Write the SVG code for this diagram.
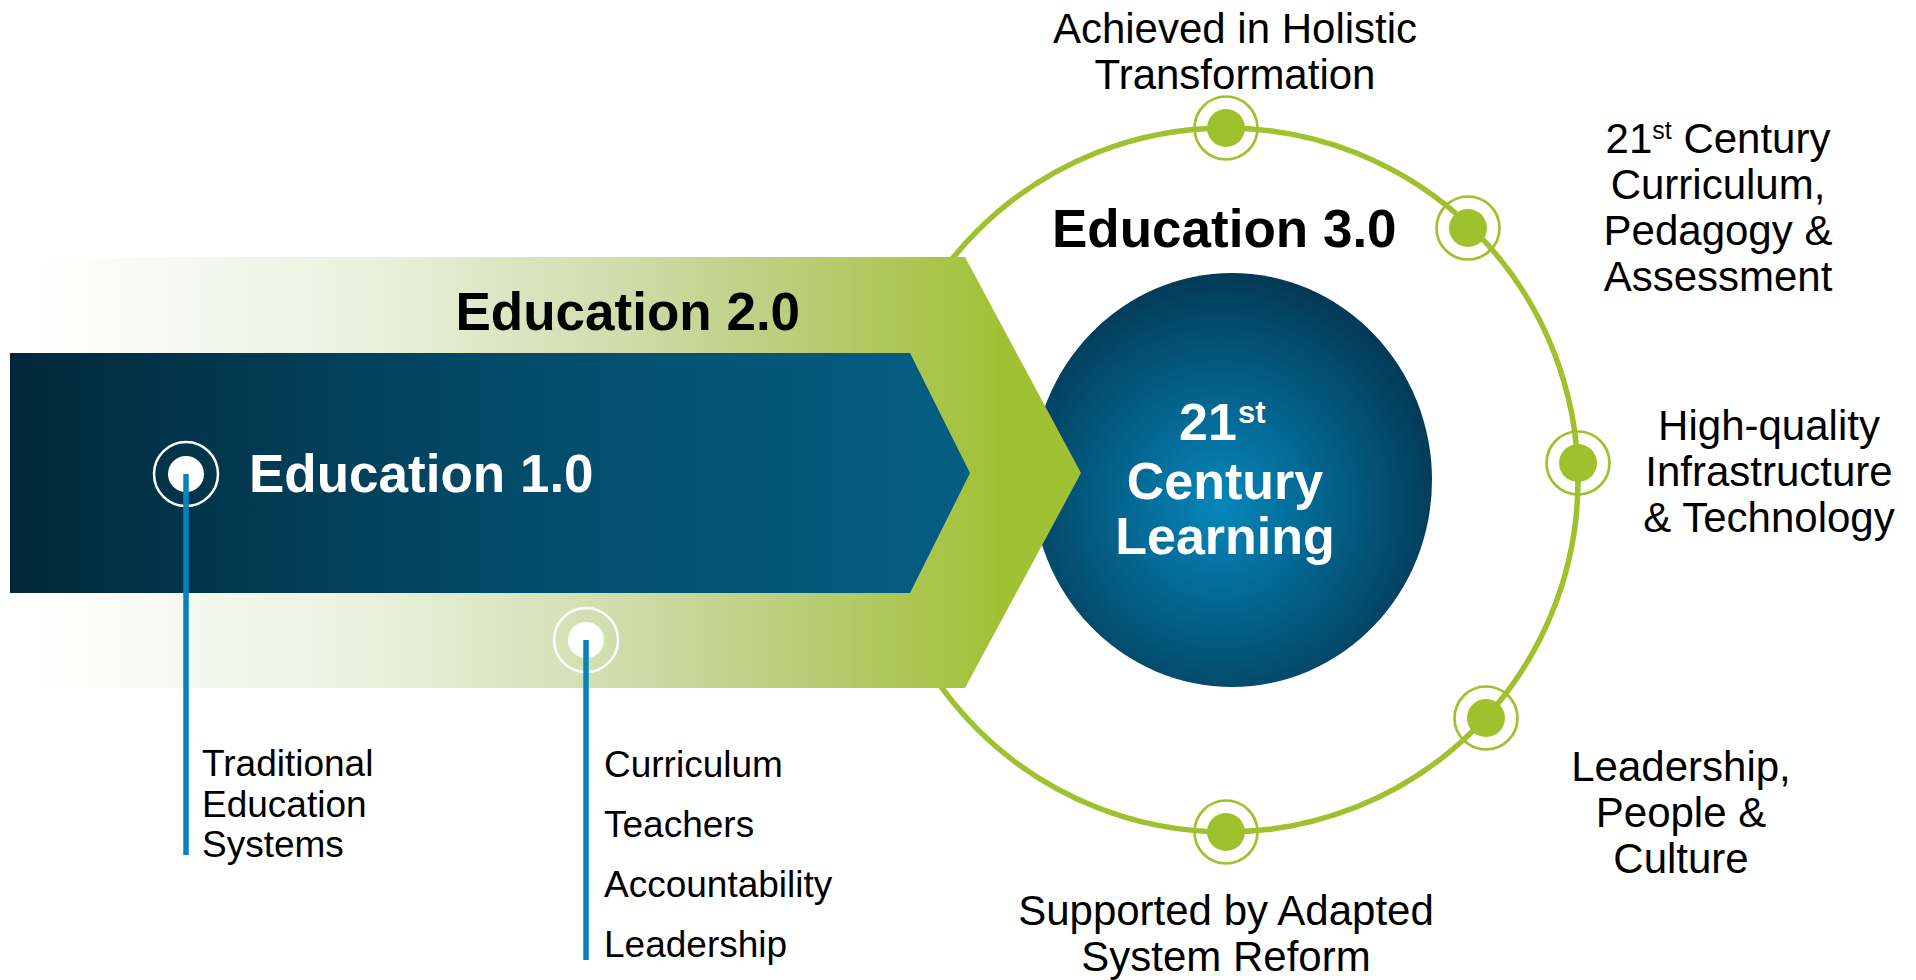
<svg xmlns="http://www.w3.org/2000/svg" width="1916" height="980" viewBox="0 0 1916 980">
  <defs>
    <linearGradient id="gGreen" gradientUnits="userSpaceOnUse" x1="40" y1="0" x2="1000" y2="0">
      <stop offset="0" stop-color="#ffffff"/>
      <stop offset="0.35" stop-color="#eaf0dc"/>
      <stop offset="0.6" stop-color="#d0ddac"/>
      <stop offset="0.8" stop-color="#b7cd76"/>
      <stop offset="1" stop-color="#a1c134"/>
    </linearGradient>
    <linearGradient id="gBlue" gradientUnits="userSpaceOnUse" x1="10" y1="0" x2="970" y2="0">
      <stop offset="0" stop-color="#01283a"/>
      <stop offset="0.5" stop-color="#034a68"/>
      <stop offset="1" stop-color="#055e83"/>
    </linearGradient>
    <radialGradient id="gCore" cx="0.47" cy="0.56" r="0.56">
      <stop offset="0" stop-color="#0787bb"/>
      <stop offset="0.5" stop-color="#03618a"/>
      <stop offset="1" stop-color="#033a56"/>
    </radialGradient>
    <style>
      .head { font-family: "Liberation Sans", Arial, sans-serif; font-weight: bold; font-size: 53px; }
      .core { font-family: "Liberation Sans", Arial, sans-serif; font-weight: bold; font-size: 52px; fill: #ffffff; }
      .lbl { font-family: "Liberation Sans", Arial, sans-serif; font-size: 42px; fill: #000000; }
      .lst { font-family: "Liberation Sans", Arial, sans-serif; font-size: 37px; fill: #000000; }
      .gdot { fill: #a0c12e; }
      .gring { fill: none; stroke: #a0c12e; stroke-width: 2.7; }
      .wdot { fill: #ffffff; }
      .wring { fill: none; stroke: #ffffff; stroke-width: 2.5; }
      .lead { stroke: #0683b9; stroke-width: 5.5; fill: none; }
    </style>
  </defs>
  <rect x="0" y="0" width="1916" height="980" fill="#ffffff"/>

  <g id="education-3-ring">
    <circle cx="1226" cy="480" r="352" fill="none" stroke="#a0c12e" stroke-width="5.5"/>
    <text class="head" x="1052" y="246.5" fill="#000000">Education 3.0</text>
  </g>

  <g id="core-21st-century-learning">
    <ellipse cx="1232" cy="480" rx="200" ry="207" fill="url(#gCore)"/>
    <text class="core"><tspan x="1179" y="440">21</tspan><tspan x="1238" y="423" font-size="31">st</tspan></text>
    <text class="core" x="1225" y="499" text-anchor="middle">Century</text>
    <text class="core" x="1225" y="554" text-anchor="middle">Learning</text>
  </g>

  <g id="education-2">
    <polygon points="40,257 965,257 1081,473 965,688 40,688" fill="url(#gGreen)"/>
    <text class="head" x="455.5" y="330" fill="#000000">Education 2.0</text>
  </g>

  <g id="education-1">
    <polygon points="10,353 910,353 970,473 910,593 10,593" fill="url(#gBlue)"/>
    <text class="head" x="249" y="492" fill="#ffffff">Education 1.0</text>
  </g>

  <g id="marker-edu1">
    <circle class="wring" cx="186" cy="474" r="32"/>
    <circle class="wdot" cx="186" cy="474" r="18"/>
  </g>
  <g id="marker-edu2">
    <circle class="wring" cx="586" cy="640" r="32"/>
    <circle class="wdot" cx="586" cy="640" r="18"/>
  </g>

  <g id="connectors">
    <line class="lead" x1="186" y1="474" x2="186" y2="855"/>
    <line class="lead" x1="586" y1="640" x2="586" y2="960"/>
  </g>

  <g id="list-edu1">
    <text class="lst" x="202" y="776">Traditional</text>
    <text class="lst" x="202" y="817">Education</text>
    <text class="lst" x="202" y="857">Systems</text>
  </g>
  <g id="list-edu2">
    <text class="lst" x="604" y="777">Curriculum</text>
    <text class="lst" x="604" y="837">Teachers</text>
    <text class="lst" x="604" y="897">Accountability</text>
    <text class="lst" x="604" y="957">Leadership</text>
  </g>

  <g id="node-holistic">
    <circle class="gring" cx="1226" cy="128" r="31.5"/>
    <circle class="gdot" cx="1226" cy="128" r="19"/>
    <text class="lbl" x="1235" y="43" text-anchor="middle">Achieved in Holistic</text>
    <text class="lbl" x="1235" y="89" text-anchor="middle">Transformation</text>
  </g>
  <g id="node-curriculum">
    <circle class="gring" cx="1468" cy="228" r="31.5"/>
    <circle class="gdot" cx="1468" cy="228" r="19"/>
    <text class="lbl" x="1718" y="153" text-anchor="middle">21<tspan font-size="25" dy="-14">st</tspan><tspan dy="14"> Century</tspan></text>
    <text class="lbl" x="1718" y="199" text-anchor="middle">Curriculum,</text>
    <text class="lbl" x="1718" y="245" text-anchor="middle">Pedagogy &amp;</text>
    <text class="lbl" x="1718" y="291" text-anchor="middle">Assessment</text>
  </g>
  <g id="node-infrastructure">
    <circle class="gring" cx="1578" cy="463" r="31.5"/>
    <circle class="gdot" cx="1578" cy="463" r="19"/>
    <text class="lbl" x="1769" y="440" text-anchor="middle">High-quality</text>
    <text class="lbl" x="1769" y="486" text-anchor="middle">Infrastructure</text>
    <text class="lbl" x="1769" y="532" text-anchor="middle">&amp; Technology</text>
  </g>
  <g id="node-leadership">
    <circle class="gring" cx="1486" cy="718" r="31.5"/>
    <circle class="gdot" cx="1486" cy="718" r="19"/>
    <text class="lbl" x="1681" y="781" text-anchor="middle">Leadership,</text>
    <text class="lbl" x="1681" y="827" text-anchor="middle">People &amp;</text>
    <text class="lbl" x="1681" y="873" text-anchor="middle">Culture</text>
  </g>
  <g id="node-reform">
    <circle class="gring" cx="1226" cy="832" r="31.5"/>
    <circle class="gdot" cx="1226" cy="832" r="19"/>
    <text class="lbl" x="1226" y="925" text-anchor="middle">Supported by Adapted</text>
    <text class="lbl" x="1226" y="971" text-anchor="middle">System Reform</text>
  </g>
</svg>
